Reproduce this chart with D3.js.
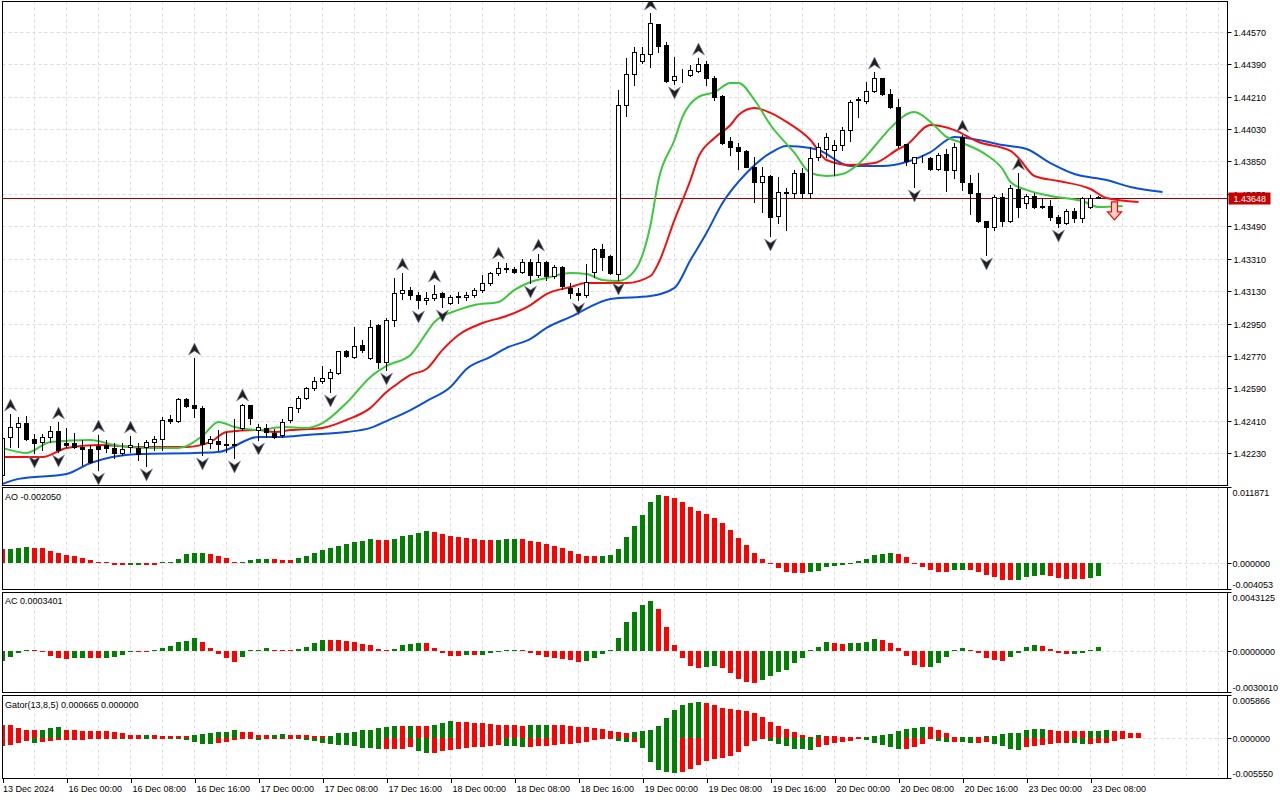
<!DOCTYPE html>
<html lang="en">
<head>
<meta charset="UTF-8" />
<title>Chart</title>
<style>
  html, body { margin: 0; padding: 0; background: #fff; }
  svg { display: block; }
  text { font-family: "Liberation Sans", Arial, sans-serif; font-size: 9px; fill: #000; }
</style>
</head>
<body>
<svg id="chart" width="1280" height="800"></svg>
<script src="https://d3js.org/d3.v7.min.js"></script>
<script>
// H1 candles, bar 0 = 13 Dec 16:00
const open = [
1.42110,1.42321,1.42376,1.42398,1.42310,1.42293,1.42321,1.42354,1.42287,1.42287,
1.42265,1.42254,1.42271,1.42276,1.42260,1.42232,1.42265,1.42260,1.42265,1.42293,
1.42310,1.42421,1.42409,1.42532,1.42498,1.42482,1.42287,1.42298,1.42282,1.42276,
1.42371,1.42498,1.42359,1.42371,1.42343,1.42332,1.42415,1.42482,1.42537,1.42593,
1.42631,1.42648,1.42676,1.42798,1.42765,1.42831,1.42759,1.42942,1.42737,1.42970,
1.43120,1.43136,1.43109,1.43081,1.43092,1.43120,1.43064,1.43098,1.43098,1.43109,
1.43136,1.43175,1.43231,1.43259,1.43253,1.43236,1.43292,1.43220,1.43292,1.43214,
1.43264,1.43148,1.43120,1.43109,1.43236,1.43364,1.43325,1.43225,1.44163,1.44335,
1.44407,1.44446,1.44613,1.44496,1.44302,1.44329,1.44329,1.44352,1.44391,1.44313,
1.44213,1.43963,1.43930,1.43908,1.43819,1.43736,1.43769,1.43547,1.43680,1.43675,
1.43786,1.43675,1.43875,1.43919,1.43913,1.43941,1.44024,1.44191,1.44185,1.44241,
1.44313,1.44224,1.44152,1.43947,1.43841,1.43869,1.43869,1.43808,1.43891,1.43802,
1.43986,1.43730,1.43675,1.43519,1.43486,1.43653,1.43519,1.43697,1.43619,1.43658,
1.43603,1.43603,1.43542,1.43508,1.43575,1.43536,1.43597,1.43650];
const high = [
1.42321,1.42448,1.42432,1.42437,1.42337,1.42337,1.42382,1.42404,1.42371,1.42343,
1.42304,1.42276,1.42332,1.42304,1.42287,1.42287,1.42326,1.42287,1.42304,1.42326,
1.42432,1.42443,1.42537,1.42537,1.42759,1.42493,1.42326,1.42359,1.42348,1.42421,
1.42504,1.42498,1.42393,1.42393,1.42365,1.42421,1.42487,1.42548,1.42598,1.42654,
1.42715,1.42698,1.42798,1.42803,1.42931,1.42859,1.42970,1.42948,1.42981,1.43203,
1.43231,1.43153,1.43125,1.43125,1.43164,1.43125,1.43109,1.43125,1.43125,1.43148,
1.43220,1.43236,1.43292,1.43286,1.43264,1.43309,1.43309,1.43336,1.43297,1.43275,
1.43270,1.43175,1.43148,1.43281,1.43370,1.43392,1.43331,1.44246,1.44424,1.44485,
1.44485,1.44674,1.44613,1.44513,1.44430,1.44363,1.44385,1.44424,1.44407,1.44324,
1.44219,1.43986,1.43952,1.43913,1.43875,1.43819,1.43775,1.43764,1.43702,1.43802,
1.43814,1.43930,1.43952,1.44008,1.43969,1.44041,1.44191,1.44208,1.44291,1.44346,
1.44313,1.44252,1.44197,1.43947,1.43875,1.43886,1.43875,1.43897,1.43919,1.43952,
1.43997,1.43775,1.43786,1.43519,1.43664,1.43675,1.43719,1.43786,1.43669,1.43675,
1.43647,1.43636,1.43553,1.43586,1.43592,1.43653,1.43664,1.43656];
const low = [
1.42104,1.42265,1.42265,1.42304,1.42232,1.42248,1.42293,1.42237,1.42265,1.42260,
1.42165,1.42176,1.42137,1.42237,1.42204,1.42221,1.42237,1.42193,1.42160,1.42248,
1.42248,1.42398,1.42404,1.42487,1.42432,1.42221,1.42260,1.42248,1.42237,1.42204,
1.42359,1.42393,1.42304,1.42321,1.42315,1.42321,1.42404,1.42459,1.42532,1.42581,
1.42620,1.42570,1.42670,1.42765,1.42759,1.42792,1.42754,1.42704,1.42692,1.42937,
1.43087,1.43087,1.43037,1.43059,1.43081,1.43042,1.43059,1.43064,1.43081,1.43098,
1.43125,1.43164,1.43220,1.43236,1.43231,1.43231,1.43175,1.43209,1.43192,1.43203,
1.43142,1.43092,1.43081,1.43098,1.43209,1.43248,1.43225,1.43192,1.44102,1.44274,
1.44396,1.44374,1.44457,1.44291,1.44280,1.44291,1.44324,1.44346,1.44274,1.44191,
1.43947,1.43886,1.43808,1.43819,1.43625,1.43569,1.43436,1.43508,1.43469,1.43647,
1.43647,1.43647,1.43858,1.43875,1.43775,1.43913,1.43963,1.44097,1.44174,1.44235,
1.44219,1.44147,1.43930,1.43830,1.43708,1.43847,1.43802,1.43802,1.43686,1.43758,
1.43692,1.43558,1.43514,1.43331,1.43469,1.43492,1.43514,1.43542,1.43592,1.43592,
1.43592,1.43525,1.43486,1.43503,1.43514,1.43514,1.43592,1.43645];
const close = [
1.42315,1.42376,1.42398,1.42310,1.42287,1.42321,1.42354,1.42248,1.42276,1.42265,
1.42254,1.42182,1.42254,1.42260,1.42232,1.42254,1.42276,1.42226,1.42293,1.42310,
1.42415,1.42409,1.42532,1.42493,1.42482,1.42281,1.42310,1.42282,1.42276,1.42282,
1.42498,1.42426,1.42376,1.42348,1.42321,1.42404,1.42487,1.42537,1.42593,1.42631,
1.42648,1.42681,1.42798,1.42770,1.42826,1.42803,1.42931,1.42737,1.42970,1.43120,
1.43136,1.43109,1.43081,1.43092,1.43114,1.43098,1.43098,1.43103,1.43109,1.43136,
1.43175,1.43231,1.43259,1.43253,1.43236,1.43292,1.43220,1.43292,1.43214,1.43264,
1.43159,1.43120,1.43109,1.43181,1.43364,1.43320,1.43231,1.44163,1.44335,1.44457,
1.44446,1.44618,1.44491,1.44296,1.44324,1.44329,1.44357,1.44391,1.44313,1.44208,
1.43952,1.43930,1.43908,1.43819,1.43736,1.43769,1.43542,1.43680,1.43675,1.43786,
1.43675,1.43869,1.43930,1.43986,1.43941,1.44024,1.44180,1.44197,1.44241,1.44313,
1.44224,1.44152,1.43941,1.43852,1.43875,1.43869,1.43808,1.43886,1.43802,1.43930,
1.43736,1.43675,1.43519,1.43486,1.43653,1.43519,1.43703,1.43597,1.43658,1.43597,
1.43597,1.43542,1.43508,1.43575,1.43536,1.43647,1.43645,1.43648];

const lastPrice = 1.43648;

// Alligator lines as [bar, price] (already shifted forward)
const jawLine = [[0,1.42060],[2,1.42088],[8,1.42115],[11,1.42176],[17,1.42226],[24,1.42232],[27,1.42237],
[32,1.42321],[35,1.42321],[38,1.42332],[43,1.42348],[46,1.42371],[48,1.42409],[51,1.42470],[53,1.42520],
[56,1.42598],[58,1.42698],[61,1.42765],[63,1.42815],[66,1.42865],[68,1.42926],[71,1.42987],[76,1.43087],
[81,1.43103],[84,1.43148],[86,1.43303],[88,1.43453],[90,1.43619],[93,1.43786],[96,1.43897],[98,1.43936],
[101,1.43925],[102,1.43913],[106,1.43825],[110,1.43825],[113,1.43847],[116,1.43902],[119,1.43986],
[122,1.43969],[125,1.43941],[128,1.43919],[131,1.43841],[134,1.43780],[138,1.43747],[141,1.43708],[145,1.43680]];
const teethLine = [[0,1.42210],[5,1.42210],[8,1.42260],[12,1.42276],[17,1.42265],[23,1.42265],[26,1.42293],
[28,1.42348],[32,1.42359],[34,1.42348],[36,1.42359],[40,1.42371],[43,1.42415],[46,1.42482],[48,1.42570],
[49,1.42604],[51,1.42665],[53,1.42698],[55,1.42804],[57,1.42887],[60,1.42953],[63,1.42992],[66,1.43053],
[68,1.43114],[71,1.43153],[73,1.43175],[78,1.43175],[81,1.43214],[82,1.43286],[84,1.43525],[86,1.43747],
[87,1.43875],[89,1.43980],[91,1.44052],[92,1.44108],[94,1.44147],[96,1.44119],[98,1.44069],[101,1.43969],
[103,1.43858],[106,1.43830],[109,1.43841],[112,1.43919],[113,1.43941],[116,1.44052],[119,1.44024],
[122,1.43958],[126,1.43908],[127,1.43869],[129,1.43769],[132,1.43741],[136,1.43697],[138,1.43647],[142,1.43625]];
const lipsLine = [[0,1.42260],[3,1.42232],[6,1.42293],[11,1.42304],[14,1.42276],[18,1.42260],[22,1.42260],
[25,1.42326],[27,1.42404],[29,1.42376],[32,1.42359],[35,1.42376],[38,1.42371],[40,1.42398],[43,1.42509],
[46,1.42654],[48,1.42715],[51,1.42776],[53,1.42898],[54,1.42959],[57,1.43026],[59,1.43053],[62,1.43070],
[64,1.43137],[66,1.43181],[68,1.43203],[71,1.43231],[73,1.43225],[75,1.43192],[77,1.43186],[79,1.43242],
[81,1.43497],[82,1.43747],[84,1.43969],[85,1.44097],[87,1.44208],[89,1.44235],[91,1.44285],[92,1.44285],
[94,1.44191],[96,1.44052],[99,1.43897],[101,1.43786],[103,1.43769],[105,1.43780],[107,1.43836],[110,1.43986],
[111,1.44036],[114,1.44124],[116,1.44069],[118,1.43986],[120,1.43952],[123,1.43886],[125,1.43808],
[126,1.43736],[128,1.43692],[131,1.43658],[135,1.43630],[137,1.43597],[140,1.43603]];

// Bill Williams fractals (bar indexes)
const fractalUp = [1,7,12,16,24,30,50,54,62,67,81,87,109,120,127];
const fractalDown = [4,7,12,18,25,29,32,41,48,52,55,66,72,77,84,96,114,123,132];
const sellSignals = [[139, 1.43625]];

const ao = [
0.00221,0.00222,0.00237,0.00257,0.00237,0.00235,0.00194,0.00158,0.00126,0.00110,
0.00079,0.00047,0.00016,0.00004,-0.00026,-0.00032,-0.00027,-0.00021,-0.00024,-0.00026,
0.00005,0.00016,0.00063,0.00142,0.00166,0.00170,0.00142,0.00115,0.00079,0.00027,
0.00028,0.00058,0.00063,0.00065,0.00063,0.00047,0.00046,0.00084,0.00115,0.00158,
0.00210,0.00237,0.00268,0.00300,0.00336,0.00352,0.00378,0.00363,0.00361,0.00390,
0.00431,0.00446,0.00478,0.00509,0.00494,0.00462,0.00431,0.00415,0.00399,0.00383,
0.00367,0.00366,0.00369,0.00383,0.00385,0.00382,0.00352,0.00336,0.00304,0.00273,
0.00241,0.00194,0.00147,0.00115,0.00114,0.00115,0.00131,0.00226,0.00415,0.00588,
0.00762,0.00967,0.01077,0.01061,0.01030,0.00967,0.00888,0.00825,0.00777,0.00714,
0.00636,0.00525,0.00399,0.00289,0.00162,0.00068,-0.00008,-0.00068,-0.00131,-0.00147,
-0.00148,-0.00131,-0.00115,-0.00052,-0.00050,-0.00021,-0.00005,0.00036,0.00068,0.00131,
0.00147,0.00162,0.00147,0.00099,-0.00005,-0.00052,-0.00099,-0.00131,-0.00132,-0.00099,
-0.00098,-0.00099,-0.00131,-0.00178,-0.00210,-0.00257,-0.00259,-0.00257,-0.00210,-0.00194,
-0.00192,-0.00194,-0.00225,-0.00241,-0.00243,-0.00244,-0.00225,-0.00205];

const ac = [
-0.00073,-0.00044,-0.00017,0.00012,0.00007,-0.00005,-0.00036,-0.00053,-0.00058,-0.00051,
-0.00050,-0.00052,-0.00053,-0.00048,-0.00044,-0.00029,-0.00002,-0.00003,-0.00004,0.00002,
0.00022,0.00036,0.00066,0.00078,0.00100,0.00066,0.00022,-0.00022,-0.00051,-0.00080,
-0.00044,0.00001,0.00012,0.00022,0.00007,0.00002,0.00001,0.00015,0.00034,0.00063,
0.00085,0.00080,0.00079,0.00073,0.00066,0.00051,0.00049,0.00019,0.00007,0.00015,
0.00044,0.00051,0.00058,0.00057,0.00022,-0.00012,-0.00036,-0.00039,-0.00027,-0.00028,
-0.00027,-0.00012,-0.00002,0.00002,0.00003,0.00001,-0.00012,-0.00027,-0.00044,-0.00051,
-0.00058,-0.00066,-0.00080,-0.00071,-0.00051,-0.00020,0.00007,0.00095,0.00211,0.00291,
0.00342,0.00371,0.00313,0.00175,0.00044,-0.00051,-0.00109,-0.00124,-0.00116,-0.00109,
-0.00124,-0.00160,-0.00204,-0.00226,-0.00233,-0.00209,-0.00180,-0.00153,-0.00138,-0.00087,
-0.00051,0.00007,0.00029,0.00066,0.00058,0.00051,0.00059,0.00060,0.00066,0.00087,
0.00080,0.00058,0.00022,-0.00036,-0.00102,-0.00116,-0.00115,-0.00087,-0.00044,0.00007,
0.00022,0.00007,-0.00012,-0.00051,-0.00066,-0.00073,-0.00044,-0.00012,0.00029,0.00044,
0.00036,0.00015,-0.00015,-0.00022,-0.00021,-0.00012,0.00007,0.00034];

const gatorUp = [
0.00187,0.00178,0.00140,0.00116,0.00108,0.00116,0.00136,0.00150,0.00116,0.00112,
0.00098,0.00097,0.00095,0.00094,0.00088,0.00074,0.00046,0.00045,0.00046,0.00038,
0.00032,0.00031,0.00029,0.00028,0.00046,0.00060,0.00074,0.00084,0.00088,0.00116,
0.00088,0.00084,0.00046,0.00038,0.00046,0.00060,0.00046,0.00045,0.00038,0.00032,
0.00031,0.00032,0.00066,0.00074,0.00088,0.00116,0.00118,0.00145,0.00154,0.00164,
0.00163,0.00164,0.00163,0.00161,0.00178,0.00206,0.00234,0.00220,0.00219,0.00206,
0.00205,0.00192,0.00178,0.00177,0.00175,0.00164,0.00178,0.00180,0.00181,0.00180,
0.00178,0.00164,0.00150,0.00149,0.00136,0.00122,0.00098,0.00080,0.00066,0.00080,
0.00098,0.00108,0.00164,0.00276,0.00389,0.00459,0.00487,0.00501,0.00487,0.00459,
0.00417,0.00403,0.00389,0.00375,0.00347,0.00295,0.00220,0.00164,0.00122,0.00080,
0.00038,0.00014,0.00038,0.00028,0.00027,0.00021,0.00014,0.00004,0.00014,0.00028,
0.00042,0.00056,0.00098,0.00126,0.00140,0.00154,0.00153,0.00112,0.00070,0.00014,
0.00015,0.00017,0.00015,0.00028,0.00029,0.00056,0.00070,0.00072,0.00112,0.00126,
0.00128,0.00112,0.00098,0.00097,0.00095,0.00094,0.00095,0.00097,0.00112,0.00098,
0.00097,0.00077,0.000665];

const gatorDown = [
0.00102,0.00101,0.00070,0.00038,0.00060,0.00056,0.00042,0.00032,0.00028,0.00024,
0.00021,0.00014,0.00010,0.00007,0.00004,0.00007,0.00004,0.00003,0.00004,0.00003,
0.00001,0.00007,0.00014,0.00032,0.00056,0.00074,0.00084,0.00070,0.00049,0.00028,
0.00018,0.00014,0.00021,0.00014,0.00010,0.00007,0.00004,0.00014,0.00032,0.00046,
0.00070,0.00074,0.00088,0.00091,0.00108,0.00130,0.00140,0.00150,0.00147,0.00145,
0.00143,0.00126,0.00173,0.00210,0.00209,0.00182,0.00168,0.00154,0.00140,0.00126,
0.00116,0.00112,0.00098,0.00112,0.00114,0.00126,0.00125,0.00112,0.00111,0.00098,
0.00084,0.00083,0.00070,0.00056,0.00028,0.00014,0.00007,0.00042,0.00056,0.00055,
0.00140,0.00323,0.00435,0.00463,0.00477,0.00463,0.00421,0.00365,0.00309,0.00281,
0.00267,0.00239,0.00196,0.00112,0.00042,0.00014,0.00042,0.00084,0.00112,0.00154,
0.00156,0.00157,0.00126,0.00098,0.00070,0.00056,0.00042,0.00014,0.00024,0.00070,
0.00098,0.00126,0.00154,0.00153,0.00126,0.00084,0.00014,0.00042,0.00056,0.00055,
0.00056,0.00070,0.00069,0.00056,0.00084,0.00112,0.00154,0.00168,0.00126,0.00112,
0.00098,0.00084,0.00070,0.00069,0.00070,0.00084,0.00083,0.00070,0.00069,0.00042,
0.00014];

// values shown in the indicator titles
const aoCurrent = "-0.002050";
const acCurrent = "0.0003401";
const gatorCurrent = ["0.000665", "0.000000"];

const priceTicks = [1.42230,1.42410,1.42590,1.42770,1.42950,1.43130,1.43310,1.43490,1.43670,1.43850,1.44030,1.44210,1.44390,1.44570];
const aoTicks = [0.011871, 0, -0.004053];
const aoTickLabels = ["0.011871", "0.000000", "-0.004053"];
const acTicks = [0.0043125, 0, -0.003001];
const acTickLabels = ["0.0043125", "0.0000000", "-0.0030010"];
const gatorTicks = [0.005866, 0, -0.00555];
const gatorTickLabels = ["0.005866", "0.000000", "-0.005550"];

const timeLabels = ["13 Dec 2024","16 Dec 00:00","16 Dec 08:00","16 Dec 16:00","17 Dec 00:00","17 Dec 08:00",
  "17 Dec 16:00","18 Dec 00:00","18 Dec 08:00","18 Dec 16:00","19 Dec 00:00","19 Dec 08:00","19 Dec 16:00",
  "20 Dec 00:00","20 Dec 08:00","20 Dec 16:00","23 Dec 00:00","23 Dec 08:00"];
const timeLabelBars = [0,8,16,24,32,40,48,56,64,72,80,88,96,104,112,120,128,136];

// ---------- layout ----------
const svg = d3.select("#chart");
const plotL = 2.5, plotR = 1227.5;
const GREEN = "#008000", RED = "#ff0000";

const x = d3.scaleLinear().domain([0, 1]).range([2.5, 10.5]);

const panels = [
  { id: "main", top: 1.5, bottom: 485.5 },
  { id: "ao", top: 487.5, bottom: 589.5 },
  { id: "ac", top: 592.5, bottom: 692.5 },
  { id: "gator", top: 695.5, bottom: 778.5 }
];

const yMain = d3.scaleLinear().domain([1.42230, 1.44570]).range([453.3, 31.7]);
const yAO = d3.scaleLinear().domain([-0.004053, 0.011871]).range([589, 488]);
const yAC = d3.scaleLinear().domain([-0.003001, 0.0043125]).range([692, 592.5]);
const yGator = d3.scaleLinear().domain([-0.00555, 0.005866]).range([778.5, 695.5]);

const crisp = v => Math.round(v) + 0.5;

const defs = svg.append("defs");
const layers = {};
panels.forEach(p => {
  defs.append("clipPath").attr("id", "clip-" + p.id)
    .append("rect").attr("x", plotL).attr("y", p.top).attr("width", plotR - plotL).attr("height", p.bottom - p.top);
  layers[p.id] = svg.append("g").attr("clip-path", `url(#clip-${p.id})`);
});

// grid
const gridBars = d3.range(4, 160, 4);
panels.forEach(p => {
  layers[p.id].selectAll("line.vgrid").data(gridBars).enter().append("line")
    .attr("x1", d => crisp(x(d) - 0.5)).attr("x2", d => crisp(x(d) - 0.5))
    .attr("y1", p.top).attr("y2", p.bottom)
    .attr("stroke", "#dcdcdc").attr("stroke-dasharray", "3,3");
});
layers.main.selectAll("line.hgrid").data(priceTicks).enter().append("line")
  .attr("x1", plotL).attr("x2", plotR)
  .attr("y1", d => crisp(yMain(d))).attr("y2", d => crisp(yMain(d)))
  .attr("stroke", "#dcdcdc").attr("stroke-dasharray", "3,3");
[["ao", yAO], ["ac", yAC], ["gator", yGator]].forEach(([id, y]) => {
  layers[id].append("line")
    .attr("x1", plotL).attr("x2", plotR)
    .attr("y1", crisp(y(0))).attr("y2", crisp(y(0)))
    .attr("stroke", "#dcdcdc").attr("stroke-dasharray", "3,3");
});

// current price line
layers.main.append("line")
  .attr("x1", plotL).attr("x2", plotR)
  .attr("y1", crisp(yMain(lastPrice))).attr("y2", crisp(yMain(lastPrice)))
  .attr("stroke", "#a00000");

// alligator
const line = d3.line().x(d => x(d[0])).y(d => yMain(d[1])).curve(d3.curveMonotoneX);
[[jawLine, "#0b4fd9"], [teethLine, "#f01010"], [lipsLine, "#3cc83c"]].forEach(([data, color]) => {
  layers.main.append("path").datum(data).attr("d", line)
    .attr("fill", "none").attr("stroke", color).attr("stroke-width", 2).attr("stroke-linejoin", "round");
});

// candles
const bars = d3.range(open.length);
const candles = layers.main.selectAll("g.candle").data(bars).enter().append("g");
candles.append("line")
  .attr("x1", i => x(i)).attr("x2", i => x(i))
  .attr("y1", i => Math.round(yMain(high[i]))).attr("y2", i => Math.round(yMain(low[i])) + 1)
  .attr("stroke", "#000");
candles.append("rect")
  .attr("x", i => x(i) - 2).attr("width", 4)
  .attr("y", i => crisp(yMain(Math.max(open[i], close[i]))))
  .attr("height", i => Math.max(0, Math.round(yMain(Math.min(open[i], close[i]))) - Math.round(yMain(Math.max(open[i], close[i])))))
  .attr("fill", i => close[i] >= open[i] ? "#fff" : "#000")
  .attr("stroke", "#000");

// fractal arrows
const upArrow = "M0,-6 L6,6 L0,2 L-6,6 Z";
const downArrow = "M0,6 L6,-6 L0,-2 L-6,-6 Z";
layers.main.selectAll("path.fup").data(fractalUp).enter().append("path")
  .attr("d", upArrow).attr("fill", "#202020").attr("stroke", "#7a86a8").attr("stroke-width", 0.6)
  .attr("transform", i => `translate(${x(i)},${yMain(high[i]) - 9})`);
layers.main.selectAll("path.fdn").data(fractalDown).enter().append("path")
  .attr("d", downArrow).attr("fill", "#202020").attr("stroke", "#7a86a8").attr("stroke-width", 0.6)
  .attr("transform", i => `translate(${x(i)},${yMain(low[i]) + 9})`);

// sell signal arrow
layers.main.selectAll("path.sell").data(sellSignals).enter().append("path")
  .attr("d", "M-3,0 H3 V10 H7 L0,18 L-7,10 H-3 Z")
  .attr("fill", "#ffd0c8").attr("stroke", "#ff0000").attr("stroke-width", 1.2)
  .attr("transform", d => `translate(${x(d[0])},${yMain(d[1])})`);

// histograms
function histogram(layer, values, y, sign, firstColor) {
  const zero = Math.round(y(0));
  layer.selectAll(null).data(values).enter().append("rect")
    .attr("x", (v, i) => x(i) - 2.5).attr("width", 5)
    .attr("y", v => {
      const yv = Math.round(y(sign * v));
      return sign * v >= 0 ? Math.min(yv, zero - 1) : zero;
    })
    .attr("height", v => Math.max(1, Math.abs(Math.round(y(sign * v)) - zero)))
    .attr("fill", (v, i) => i === 0 ? firstColor : (v > values[i - 1] ? GREEN : RED));
}
histogram(layers.ao, ao, yAO, 1, RED);
histogram(layers.ac, ac, yAC, 1, GREEN);
histogram(layers.gator, gatorUp, yGator, 1, RED);
histogram(layers.gator, gatorDown, yGator, -1, RED);

// frames
panels.forEach(p => {
  svg.append("rect").attr("x", plotL).attr("y", p.top)
    .attr("width", plotR - plotL).attr("height", p.bottom - p.top)
    .attr("fill", "none").attr("stroke", "#000");
});

// right price axis
const axisG = svg.append("g");
priceTicks.forEach(t => {
  const yy = crisp(yMain(t));
  axisG.append("line").attr("x1", plotR).attr("x2", plotR + 4).attr("y1", yy).attr("y2", yy).attr("stroke", "#000");
  axisG.append("text").attr("x", plotR + 6).attr("y", yy).attr("dominant-baseline", "central").text(t.toFixed(5));
});
const ly = crisp(yMain(lastPrice));
axisG.append("rect").attr("x", plotR + 1).attr("y", ly - 6).attr("width", 42).attr("height", 12).attr("fill", "#c80000");
axisG.append("text").attr("x", plotR + 6).attr("y", ly).attr("dominant-baseline", "central")
  .style("fill", "#fff").text(lastPrice.toFixed(5));

function subAxis(p, y, ticks, labels) {
  ticks.forEach((t, k) => {
    let yy = crisp(y(t));
    if (k === 0) yy = p.top;
    if (k === ticks.length - 1) yy = p.bottom;
    axisG.append("line").attr("x1", plotR).attr("x2", plotR + 4).attr("y1", yy).attr("y2", yy).attr("stroke", "#000");
    const ty = k === 0 ? yy + 5 : (k === ticks.length - 1 ? yy - 5 : yy);
    axisG.append("text").attr("x", plotR + 5).attr("y", ty).attr("dominant-baseline", "central").text(labels[k]);
  });
}
subAxis(panels[1], yAO, aoTicks, aoTickLabels);
subAxis(panels[2], yAC, acTicks, acTickLabels);
subAxis(panels[3], yGator, gatorTicks, gatorTickLabels);

// panel titles
svg.append("text").attr("x", 5).attr("y", 497).attr("dominant-baseline", "central").text("AO " + aoCurrent);
svg.append("text").attr("x", 5).attr("y", 601).attr("dominant-baseline", "central").text("AC " + acCurrent);
svg.append("text").attr("x", 5).attr("y", 705).attr("dominant-baseline", "central")
  .text("Gator(13,8,5) " + gatorCurrent.join(" "));

// time axis
const timeG = svg.append("g");
timeLabelBars.forEach((b, k) => {
  const xx = Math.round(x(b)) + 0.5;
  timeG.append("line").attr("x1", xx).attr("x2", xx).attr("y1", 778.5).attr("y2", 783).attr("stroke", "#000");
  timeG.append("text").attr("x", k === 0 ? 3 : xx + 1).attr("y", 789).attr("dominant-baseline", "central").text(timeLabels[k]);
});
</script>
</body>
</html>
